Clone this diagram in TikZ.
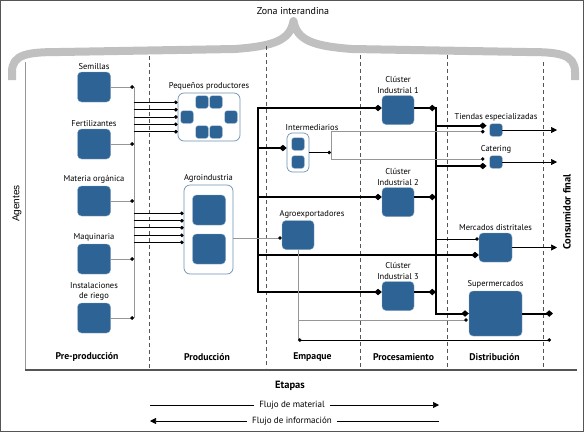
\documentclass[tikz,border=0pt]{standalone}
\usepackage{fontspec}
\setmainfont{PT Sans}
\newfontfamily\arialfont{Liberation Sans}
\usetikzlibrary{positioning,arrows.meta}

\definecolor{agentblue}{RGB}{46,99,149}
\definecolor{braceg}{RGB}{192,192,192}
\definecolor{lineg}{RGB}{150,150,150}
\definecolor{frameg}{RGB}{85,85,85}

\begin{document}
\begin{tikzpicture}[x=1pt, y=-1pt,
  agente/.style={draw=agentblue!55!white, fill=agentblue, rounded corners=4pt, inner sep=0pt,
    minimum width=33pt, minimum height=30pt},
  mini/.style={agente, rounded corners=2.5pt, minimum width=12.5pt, minimum height=12.5pt},
  grupo/.style={draw=agentblue!70!white, fill=white, rounded corners=6pt, inner sep=0pt, line width=0.7pt},
  lbl/.style={font=\fontsize{8.5}{10.5}\selectfont, align=center, inner sep=1pt},
  etapa/.style={font=\fontsize{9.7}{11}\selectfont\bfseries},
  gris/.style={lineg, line width=0.8pt},
  negro/.style={black, line width=0.7pt},
  punto/.style={-{Circle[length=3.6pt,color=black]}},
  fuerte/.style={black, line width=2pt, -{Diamond[length=7.5pt,width=6.5pt]}},
  bus/.style={black, line width=2pt, line cap=rect},
  salida/.style={negro, -{Triangle[length=6pt,width=6pt]}}]

  \useasboundingbox (0,0) rectangle (584,432);

  % --- 1. marco, llave y ejes ---
  \draw[frameg, line width=1pt] (0.5,0.5) rectangle (583.5,431.5);
  \node[font=\fontsize{10}{12}\selectfont] (zona) at (293,11) {Zona interandina};
  \draw[braceg, line width=8pt, line join=round]
    (12,80) -- (12,72) .. controls (12,54) and (28,52) .. (60,52) -- (235,49)
    .. controls (275,46) and (290,40) .. (293.5,21)
    .. controls (297,40) and (312,46) .. (352,49) -- (527,52)
    .. controls (559,52) and (575,54) .. (575,72) -- (575,80);

  \draw[lineg, line width=1pt] (25,62) -- (25,370);
  \draw[frameg, line width=1.2pt] (25,370) -- (577,370);
  \foreach \x/\y in {149/56, 266/46, 360/55, 447/55, 543/62}
    \draw[frameg, line width=0.7pt, dash pattern=on 4pt off 3pt] (\x,\y) -- (\x,368);

  \node[rotate=90, anchor=west, inner sep=0pt, font=\fontsize{10}{11}\arialfont] (agentes) at (17,222) {Agentes};
  \node[rotate=90, anchor=west, inner sep=0pt, font=\fontsize{10.5}{12}\selectfont\bfseries] (consumidor) at (567,250) {Consumidor final};

  % --- 2. etapas ---
  \node[etapa] (pre) at (87,357) {Pre-producción};
  \node[etapa] (prod) at (207,357) {Producción};
  \node[etapa] (emp) at (312.5,357) {Empaque};
  \node[etapa] (proc) at (403.5,357) {Procesamiento};
  \node[etapa] (dist) at (494.5,357) {Distribución};

  % --- 3. pre-producción ---
  \node[agente] (semillas) at (94,87) {};
  \node[agente] (fertil) at (94,144) {};
  \node[agente] (materia) at (94,201) {};
  \node[agente] (maquinaria) at (94,259) {};
  \node[agente] (riego) at (94,318) {};
  \node[lbl, above=1pt of semillas] (lsem) {Semillas};
  \node[lbl, above=1pt of fertil] (lfer) {Fertilizantes};
  \node[lbl, above=1pt of materia] (lmat) {Materia orgánica};
  \node[lbl, above=1pt of maquinaria] (lmaq) {Maquinaria};
  \node[lbl, above=1pt of riego] (lrie) {Instalaciones\\de riego};

  \coordinate (pbtop) at (134,87);
  \coordinate (pbbot) at (134,318);
  \draw[gris] (pbtop) -- (pbbot);
  \foreach \n in {semillas,fertil,materia,maquinaria,riego}
    \draw[gris, punto] (\n.east) -- (\n.east -| pbtop);

  % --- 4. producción ---
  \node[grupo, minimum width=62pt, minimum height=48pt] (pequenos) at (209,117) {};
  \node[lbl, above=1pt of pequenos] (lpeq) {Pequeños productores};
  \foreach \px/\py [count=\i] in {202/102, 216/102, 187/117, 231/117, 202/132, 216/132}
    \node[mini] (pp\i) at (\px,\py) {};

  \node[grupo, minimum width=49pt, minimum height=89pt] (agroind) at (208.5,229.5) {};
  \node[lbl, above=1pt of agroind] (lagi) {Agroindustria};
  \node[agente] (ai1) at (209,210) {};
  \node[agente] (ai2) at (209,249) {};

  \foreach \y in {102.3,109.7,117,124.3,131.7}
    \draw[negro, punto] (pbtop |- 0,\y) -- (pequenos.west |- 0,\y);
  \foreach \y in {213.3,220.7,227.7,235.3,242.3}
    \draw[negro, punto] (pbtop |- 0,\y) -- (agroind.west |- 0,\y);

  % --- 5. empaque ---
  \node[grupo, rounded corners=5pt, minimum width=22pt, minimum height=39pt] (inter) at (298,152.5) {};
  \node[mini] (in1) at (298,144) {};
  \node[mini] (in2) at (298,162) {};
  \node[lbl, above=1pt of inter, xshift=14pt] (lint) {Intermediarios};

  \node[agente, minimum width=32pt, minimum height=29pt] (agroexp) at (298,235) {};
  \node[lbl, above=1pt of agroexp, xshift=14pt] (lexp) {Agroexportadores};

  % --- 6. procesamiento ---
  \node[agente, minimum width=32pt, minimum height=29pt] (c1) at (398,110) {};
  \node[agente, minimum width=32pt, minimum height=29pt] (c2) at (398,202) {};
  \node[agente, minimum width=32pt, minimum height=29pt] (c3) at (398,296) {};
  \node[lbl, above=1pt of c1] (lc1) {Clúster\\Industrial 1};
  \node[lbl, above=1pt of c2] (lc2) {Clúster\\Industrial 2};
  \node[lbl, above=1pt of c3] (lc3) {Clúster\\Industrial 3};

  % --- 7. distribución ---
  \node[mini] (tiendas) at (496,130) {};
  \node[mini] (catering) at (496,162) {};
  \node[agente, minimum width=33pt, minimum height=29pt] (mercados) at (495.5,247.5) {};
  \node[agente, minimum width=53pt, minimum height=45pt] (super) at (495.5,313.5) {};
  \node[lbl, above=1pt of tiendas] (ltie) {Tiendas especializadas};
  \node[lbl, above=1pt of catering] (lcat) {Catering};
  \node[lbl, above=1pt of mercados] (lmer) {Mercados distritales};
  \node[lbl, above=1pt of super] (lsup) {Supermercados};

  % --- 8. flujos de material ---
  \coordinate (lb1) at (258,108);
  \coordinate (lb2) at (258,148);
  \coordinate (lb3) at (258,197);
  \coordinate (lb4) at (258,255);
  \coordinate (lb5) at (258,292);
  \draw[bus] (lb1) -- (lb5);
  \draw[fuerte] (lb1) -- (lb1 -| c1.west);
  \draw[fuerte] (lb2) -- (lb2 -| inter.west);
  \draw[fuerte] (lb3) -- (lb3 -| c2.west);
  \draw[fuerte] (lb4) -- (lb4 -| mercados.west);
  \draw[fuerte] (lb5) -- (lb5 -| c3.west);

  \coordinate (rb1) at (436,108);
  \coordinate (rb3) at (436,197);
  \coordinate (rb5) at (436,292);
  \coordinate (rbt) at (436,125.7);
  \coordinate (rbc) at (436,166);
  \coordinate (rbm) at (436,239);
  \draw[fuerte, line cap=rect] (rb1) |- (super.west);
  \draw[fuerte] (c1.east |- rb1) -- (rb1);
  \draw[fuerte] (c2.east |- rb3) -- (rb3);
  \draw[fuerte] (c3.east |- rb5) -- (rb5);
  \draw[fuerte, shorten >=3pt] (rbt) -- (rbt -| tiendas.west);
  \draw[fuerte, shorten >=3pt] (rbc) -- (rbc -| catering.west);
  \draw[negro, punto] (rbm) -- (rbm -| mercados.west);

  \coordinate (cf) at (557,0);
  \coordinate (sf) at (553,0);
  \draw[salida] (tiendas.east) -- (tiendas.east -| cf);
  \draw[salida] (catering.east) -- (catering.east -| cf);
  \draw[salida] (mercados.east) -- (mercados.east -| cf);
  \draw[fuerte] (super.east) -- (super.east -| sf);

  % --- 9. intermediarios y agroexportadores ---
  \coordinate (ia) at (331,131.7);
  \coordinate (ib) at (331,159);
  \draw[negro, punto] (inter.east) -- (inter.east -| ia);
  \draw[gris] (ia) -- (ib);
  \draw[gris, punto, shorten >=5pt] (ia) -- (ia -| tiendas.west);
  \draw[gris, punto, shorten >=5pt] (ib) -- (ib -| catering.west);

  \draw[gris, punto] ([yshift=-3pt]agroexp.west -| agroind.east) -- ([yshift=-3pt]agroexp.west);
  \coordinate (ae1) at (298,320);
  \coordinate (ae2) at (298,340);
  \coordinate (ae3) at (551,340);
  \draw[gris] (agroexp.south) -- (ae2);
  \draw[gris, punto, shorten >=1pt] (ae1) -- (ae1 -| super.west);
  \draw[negro, {Circle[length=3.6pt]}-{Circle[length=3.6pt]}] (ae2) -- (ae3);

  % --- 10. leyenda ---
  \node[font=\fontsize{10.5}{12}\selectfont\bfseries] (etapas) at (290,386) {Etapas};
  \node[lbl, font=\fontsize{9}{10}\selectfont, inner xsep=5pt] (fmat) at (292,405) {Flujo de material};
  \node[lbl, font=\fontsize{9}{10}\selectfont, inner xsep=5pt] (finf) at (292,421) {Flujo de información};
  \coordinate (lm) at (150,0);
  \coordinate (rm) at (439,0);
  \draw[negro] (fmat.west -| lm) -- (fmat.west);
  \draw[salida] (fmat.east) -- (fmat.east -| rm);
  \draw[negro, {Triangle[length=6pt,width=6pt]}-] (finf.west -| lm) -- (finf.west);
  \draw[negro] (finf.east) -- (finf.east -| rm);

\end{tikzpicture}
\end{document}
